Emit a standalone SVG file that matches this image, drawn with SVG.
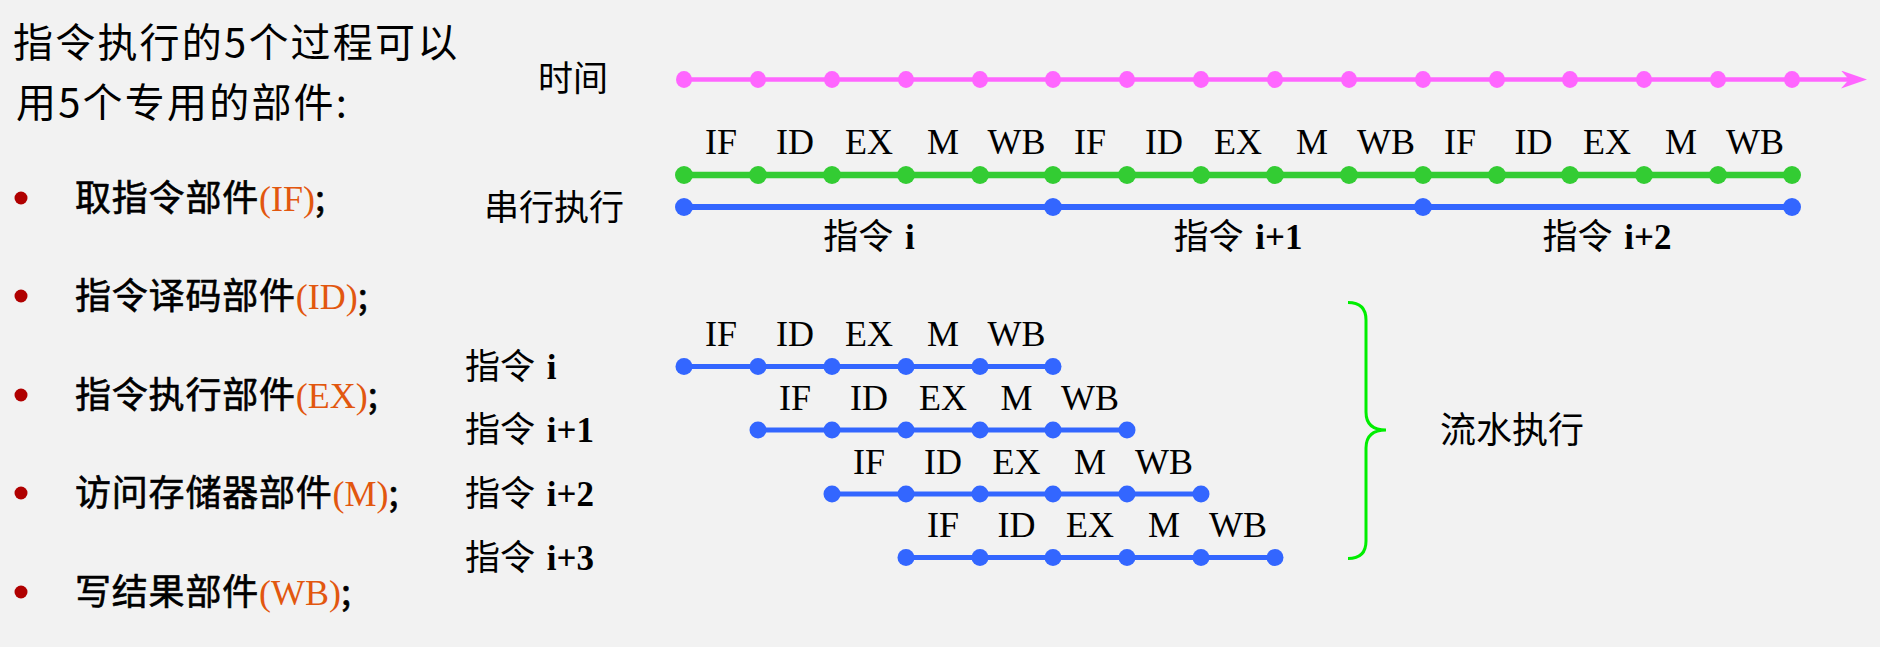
<svg xmlns="http://www.w3.org/2000/svg" width="1880" height="647" viewBox="0 0 1880 647">
<style>
.bg{fill:#f2f2f2}
.cjk{font-family:"Noto Sans CJK SC",sans-serif;fill:#000}
.intro{font-size:40px;letter-spacing:2.2px}
.item{font-size:36px;letter-spacing:0.8px;stroke:#000;stroke-width:0.6px}
.abbr{font-family:"Liberation Serif",serif;fill:#e2570f;stroke:none;font-size:36px;letter-spacing:0}
.stage{font-family:"Liberation Serif","Noto Sans CJK SC",serif;font-size:36px;fill:#000;text-anchor:middle}
.lbl{font-family:"Liberation Serif","Noto Sans CJK SC",serif;font-size:35px;fill:#000;word-spacing:3px}
.lbl .n{font-weight:bold}
.big{font-family:"Liberation Serif","Noto Sans CJK SC",serif;font-size:35px;fill:#000}
.time{stroke:#ff66ff;stroke-width:4.5;fill:none}
.tdot{fill:#ff66ff}
.green{stroke:#33cc33;stroke-width:6.5;fill:none}
.gdot{fill:#33cc33}
.blue{stroke:#3366ff;stroke-width:6;fill:none}
.bdot{fill:#3366ff}
.pipe{stroke:#3366ff;stroke-width:5;fill:none}
.brace{stroke:#00ee00;stroke-width:3;fill:none}
.bullet{fill:#b00000}
</style>
<defs>
<marker id="arrow" markerUnits="userSpaceOnUse" markerWidth="30" markerHeight="22" refX="8" refY="9" orient="auto">
<path d="M0,0 L26,9 L0,18 L8,9 Z" fill="#ff66ff"/>
</marker>
</defs>
<rect class="bg" x="0" y="0" width="1880" height="647"/>

<g id="intro-text" class="cjk">
<text class="intro" x="13" y="57">指令执行的5个过程可以</text>
<text class="intro" x="16" y="117">用5个专用的部件:</text>
</g>

<g id="component-list" class="cjk">
<circle class="bullet" cx="21" cy="198" r="6.5"/>
<text class="item" x="75" y="211">取指令部件<tspan class="abbr">(IF)</tspan>;</text>
<circle class="bullet" cx="21" cy="296" r="6.5"/>
<text class="item" x="75" y="309">指令译码部件<tspan class="abbr">(ID)</tspan>;</text>
<circle class="bullet" cx="21" cy="395" r="6.5"/>
<text class="item" x="75" y="408">指令执行部件<tspan class="abbr">(EX)</tspan>;</text>
<circle class="bullet" cx="21" cy="493" r="6.5"/>
<text class="item" x="75" y="506">访问存储器部件<tspan class="abbr">(M)</tspan>;</text>
<circle class="bullet" cx="21" cy="592" r="6.5"/>
<text class="item" x="75" y="605">写结果部件<tspan class="abbr">(WB)</tspan>;</text>
</g>

<g id="label-time"><text class="big" x="538" y="91">时间</text></g>
<g id="label-serial"><text class="big" x="484" y="220">串行执行</text></g>
<g id="label-pipeline"><text class="big" x="1440" y="443" style="font-size:36px">流水执行</text></g>

<g id="connectors">
<line class="time" x1="684" y1="79.5" x2="1849" y2="79.5" marker-end="url(#arrow)"/>
<line class="green" x1="684" y1="175" x2="1792" y2="175"/>
<line class="blue" x1="684" y1="207" x2="1792" y2="207"/>
<line class="pipe" x1="684" y1="366.5" x2="1053" y2="366.5"/>
<line class="pipe" x1="758" y1="430" x2="1127" y2="430"/>
<line class="pipe" x1="832" y1="494" x2="1201" y2="494"/>
<line class="pipe" x1="906" y1="557.5" x2="1275" y2="557.5"/>
<path class="brace" d="M1348,302.5 Q1366,302.5 1366,320 L1366,412 Q1366,430 1386,430 Q1366,430 1366,448 L1366,541 Q1366,558.5 1348,558.5"/>
</g>

<g id="time-ticks" class="tdot">
<ellipse cx="684" cy="79.5" rx="8" ry="8.5"/><ellipse cx="758" cy="79.5" rx="8" ry="8.5"/><ellipse cx="832" cy="79.5" rx="8" ry="8.5"/><ellipse cx="906" cy="79.5" rx="8" ry="8.5"/><ellipse cx="980" cy="79.5" rx="8" ry="8.5"/><ellipse cx="1053" cy="79.5" rx="8" ry="8.5"/><ellipse cx="1127" cy="79.5" rx="8" ry="8.5"/><ellipse cx="1201" cy="79.5" rx="8" ry="8.5"/><ellipse cx="1275" cy="79.5" rx="8" ry="8.5"/><ellipse cx="1349" cy="79.5" rx="8" ry="8.5"/><ellipse cx="1423" cy="79.5" rx="8" ry="8.5"/><ellipse cx="1497" cy="79.5" rx="8" ry="8.5"/><ellipse cx="1570" cy="79.5" rx="8" ry="8.5"/><ellipse cx="1644" cy="79.5" rx="8" ry="8.5"/><ellipse cx="1718" cy="79.5" rx="8" ry="8.5"/><ellipse cx="1792" cy="79.5" rx="8" ry="8.5"/>
</g>

<g id="serial-stages">
<g class="gdot">
<circle cx="684" cy="175" r="9"/><circle cx="758" cy="175" r="9"/><circle cx="832" cy="175" r="9"/><circle cx="906" cy="175" r="9"/><circle cx="980" cy="175" r="9"/><circle cx="1053" cy="175" r="9"/><circle cx="1127" cy="175" r="9"/><circle cx="1201" cy="175" r="9"/><circle cx="1275" cy="175" r="9"/><circle cx="1349" cy="175" r="9"/><circle cx="1423" cy="175" r="9"/><circle cx="1497" cy="175" r="9"/><circle cx="1570" cy="175" r="9"/><circle cx="1644" cy="175" r="9"/><circle cx="1718" cy="175" r="9"/><circle cx="1792" cy="175" r="9"/>
</g>
<g class="stage">
<text x="721" y="154">IF</text><text x="795" y="154">ID</text><text x="869" y="154">EX</text><text x="943" y="154">M</text><text x="1016.5" y="154">WB</text>
<text x="1090" y="154">IF</text><text x="1164" y="154">ID</text><text x="1238" y="154">EX</text><text x="1312" y="154">M</text><text x="1386" y="154">WB</text>
<text x="1460" y="154">IF</text><text x="1533.5" y="154">ID</text><text x="1607" y="154">EX</text><text x="1681" y="154">M</text><text x="1755" y="154">WB</text>
</g>
</g>

<g id="serial-instructions">
<g class="bdot">
<circle cx="684" cy="207" r="9"/><circle cx="1053" cy="207" r="9"/><circle cx="1423" cy="207" r="9"/><circle cx="1792" cy="207" r="9"/>
</g>
<g class="lbl" text-anchor="middle">
<text x="869" y="249">指令 <tspan class="n">i</tspan></text>
<text x="1238" y="249">指令 <tspan class="n">i+1</tspan></text>
<text x="1607" y="249">指令 <tspan class="n">i+2</tspan></text>
</g>
</g>

<g id="pipe-row-0">
<text class="lbl" x="465" y="379">指令 <tspan class="n">i</tspan></text>
<g class="bdot"><circle cx="684" cy="366.5" r="8.5"/><circle cx="758" cy="366.5" r="8.5"/><circle cx="832" cy="366.5" r="8.5"/><circle cx="906" cy="366.5" r="8.5"/><circle cx="980" cy="366.5" r="8.5"/><circle cx="1053" cy="366.5" r="8.5"/></g>
<g class="stage"><text x="721" y="346">IF</text><text x="795" y="346">ID</text><text x="869" y="346">EX</text><text x="943" y="346">M</text><text x="1016.5" y="346">WB</text></g>
</g>

<g id="pipe-row-1">
<text class="lbl" x="465" y="442">指令 <tspan class="n">i+1</tspan></text>
<g class="bdot"><circle cx="758" cy="430" r="8.5"/><circle cx="832" cy="430" r="8.5"/><circle cx="906" cy="430" r="8.5"/><circle cx="980" cy="430" r="8.5"/><circle cx="1053" cy="430" r="8.5"/><circle cx="1127" cy="430" r="8.5"/></g>
<g class="stage"><text x="795" y="410">IF</text><text x="869" y="410">ID</text><text x="943" y="410">EX</text><text x="1016.5" y="410">M</text><text x="1090" y="410">WB</text></g>
</g>

<g id="pipe-row-2">
<text class="lbl" x="465" y="506">指令 <tspan class="n">i+2</tspan></text>
<g class="bdot"><circle cx="832" cy="494" r="8.5"/><circle cx="906" cy="494" r="8.5"/><circle cx="980" cy="494" r="8.5"/><circle cx="1053" cy="494" r="8.5"/><circle cx="1127" cy="494" r="8.5"/><circle cx="1201" cy="494" r="8.5"/></g>
<g class="stage"><text x="869" y="474">IF</text><text x="943" y="474">ID</text><text x="1016.5" y="474">EX</text><text x="1090" y="474">M</text><text x="1164" y="474">WB</text></g>
</g>

<g id="pipe-row-3">
<text class="lbl" x="465" y="570">指令 <tspan class="n">i+3</tspan></text>
<g class="bdot"><circle cx="906" cy="557.5" r="8.5"/><circle cx="980" cy="557.5" r="8.5"/><circle cx="1053" cy="557.5" r="8.5"/><circle cx="1127" cy="557.5" r="8.5"/><circle cx="1201" cy="557.5" r="8.5"/><circle cx="1275" cy="557.5" r="8.5"/></g>
<g class="stage"><text x="943" y="537">IF</text><text x="1016.5" y="537">ID</text><text x="1090" y="537">EX</text><text x="1164" y="537">M</text><text x="1238" y="537">WB</text></g>
</g>
</svg>
